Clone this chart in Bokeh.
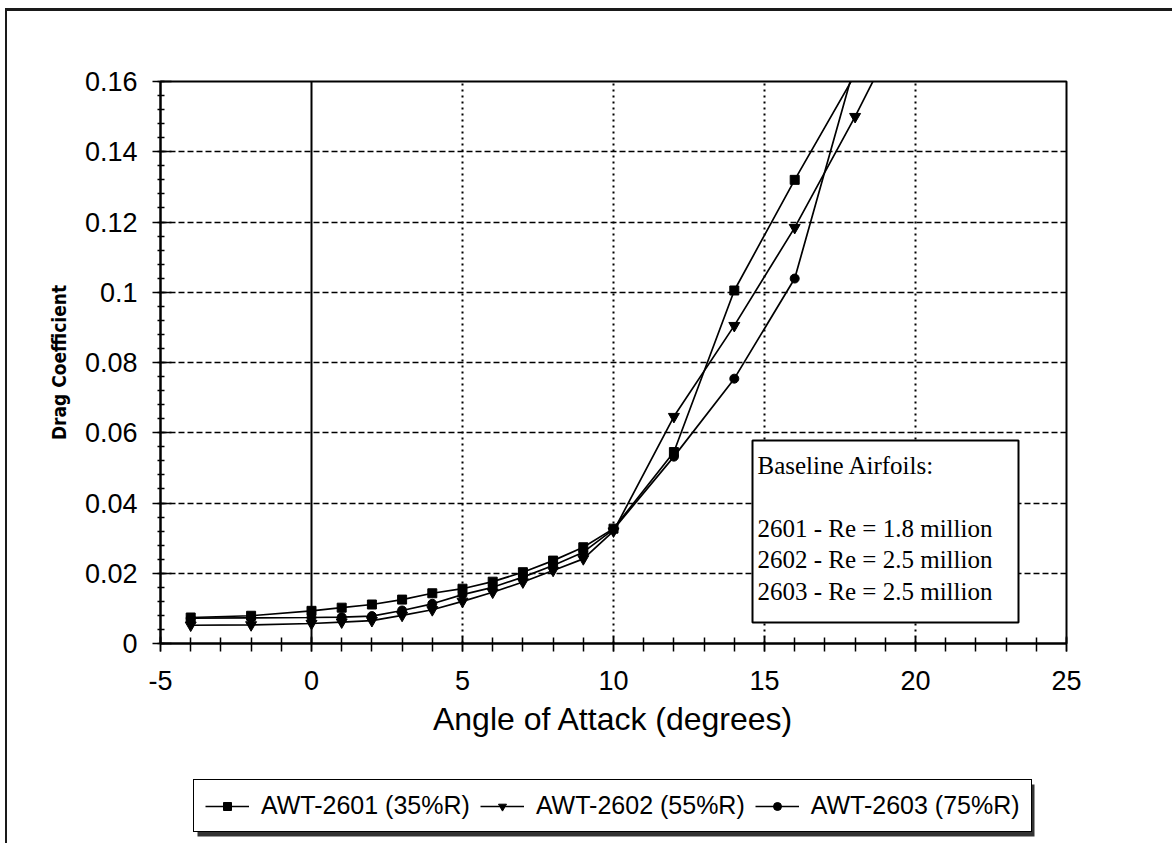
import numpy as np
from bokeh.plotting import figure
from bokeh.layouts import column
from bokeh.models import (Range1d, FixedTicker, Span, Legend, LegendItem, Label,
                          BoxAnnotation)
from bokeh.embed import file_html
from bokeh.resources import INLINE

# Angle of attack (degrees) and drag coefficient for each section
alpha_2601 = [-4, -2, 0, 1, 2, 3, 4, 5, 6, 7, 8, 9, 10, 12, 14, 16, 18]
cd_2601 = [0.0074, 0.0079, 0.0093, 0.0102, 0.0111, 0.0125, 0.0143, 0.0156,
           0.0176, 0.0203, 0.0236, 0.0274, 0.0327, 0.0545, 0.1005, 0.1320, 0.1620]

alpha_2602 = [-4, -2, 0, 1, 2, 3, 4, 5, 6, 7, 8, 9, 10, 12, 14, 16, 18, 20]
cd_2602 = [0.0052, 0.0053, 0.0057, 0.0061, 0.0065, 0.0080, 0.0096, 0.0120,
           0.0146, 0.0175, 0.0208, 0.0241, 0.0320, 0.0646, 0.0905, 0.1184, 0.1500, 0.1840]

alpha_2603 = [-4, -2, 0, 1, 2, 3, 4, 5, 6, 7, 8, 9, 10, 12, 14, 16, 18]
cd_2603 = [0.0072, 0.0073, 0.0074, 0.0075, 0.0078, 0.0094, 0.0113, 0.0139,
           0.0160, 0.0189, 0.0222, 0.0260, 0.0325, 0.0532, 0.0754, 0.1039, 0.1650]

series_labels = ["AWT-2601 (35%R)", "AWT-2602 (55%R)", "AWT-2603 (75%R)"]
series_markers = ["square", "inverted_triangle", "circle"]
marker_sizes = [9, 11, 9]

x_ticks = [-5, 0, 5, 10, 15, 20, 25]
x_tick_labels = ["-5", "0", "5", "10", "15", "20", "25"]
y_ticks = [0, 0.02, 0.04, 0.06, 0.08, 0.1, 0.12, 0.14, 0.16]
y_tick_labels = ["0", "0.02", "0.04", "0.06", "0.08", "0.1", "0.12", "0.14", "0.16"]

note_text = ("Baseline Airfoils:\n\n"
             "2601 - Re = 1.8 million\n"
             "2602 - Re = 2.5 million\n"
             "2603 - Re = 2.5 million")

SANS = "Liberation Sans"
series = [(alpha_2601, cd_2601), (alpha_2602, cd_2602), (alpha_2603, cd_2603)]

# ---------------- main chart ----------------
p = figure(width=1165, height=749, output_backend="svg", toolbar_location=None,
           x_range=Range1d(-5, 25), y_range=Range1d(0, 0.16),
           min_border_left=153, min_border_right=106,
           min_border_top=70, min_border_bottom=117,
           background_fill_color="white", border_fill_color="white")

p.outline_line_color = "black"
p.outline_line_width = 2

p.xaxis.ticker = FixedTicker(ticks=x_ticks, minor_ticks=list(range(-5, 26)))
p.xaxis.major_label_overrides = dict(zip(x_ticks, x_tick_labels))
p.yaxis.ticker = FixedTicker(ticks=y_ticks,
                             minor_ticks=list(np.round(np.arange(0, 0.1601, 0.004), 3)))
p.yaxis.major_label_overrides = dict(zip(y_ticks, y_tick_labels))

for ax in (p.xaxis, p.yaxis):
    ax.axis_line_color = "black"
    ax.axis_line_width = 2
    ax.major_tick_line_color = "black"
    ax.minor_tick_line_color = "black"
    ax.major_tick_line_width = 1.5
    ax.minor_tick_line_width = 1.5
    ax.major_label_text_font = SANS
    ax.major_label_text_font_size = "27px"
    ax.major_label_text_color = "black"
    ax.axis_label_text_color = "black"

p.xaxis.major_tick_in = 7
p.xaxis.major_tick_out = 8
p.xaxis.minor_tick_in = 6
p.xaxis.minor_tick_out = 8
p.xaxis.major_label_standoff = 19
p.xaxis.axis_label = "Angle of Attack (degrees)"
p.xaxis.axis_label_text_font = SANS
p.xaxis.axis_label_text_font_size = "32px"
p.xaxis.axis_label_text_font_style = "normal"
p.xaxis.axis_label_standoff = 8

p.yaxis.major_tick_in = 11
p.yaxis.major_tick_out = 8
p.yaxis.minor_tick_in = 4
p.yaxis.minor_tick_out = 3
p.yaxis.major_label_standoff = 15
p.yaxis.axis_label = "Drag Coefficient"
p.yaxis.axis_label_text_font = "DejaVu Sans Condensed"
p.yaxis.axis_label_text_font_size = "19px"
p.yaxis.axis_label_text_font_style = "bold"
p.yaxis.axis_label_standoff = 12

# dotted verticals, dashed horizontals, solid line at zero incidence
p.xgrid.ticker = FixedTicker(ticks=[5, 10, 15, 20])
p.xgrid.grid_line_color = "black"
p.xgrid.grid_line_width = 2
p.xgrid.grid_line_dash = "2 4"
p.ygrid.ticker = FixedTicker(ticks=y_ticks[1:-1])
p.ygrid.grid_line_color = "black"
p.ygrid.grid_line_width = 1.6
p.ygrid.grid_line_dash = "6 3"
p.add_layout(Span(location=0, dimension="height", line_color="black", line_width=2))

for (xs, ys), mk, sz in zip(series, series_markers, marker_sizes):
    p.line(xs, ys, line_color="black", line_width=1.7)
    p.scatter(xs, ys, marker=mk, size=sz, color="black")

# note box (screen offsets from the frame's lower-left corner)
note_box = BoxAnnotation(left=592, right=858, top=203, bottom=21,
                         left_units="screen", right_units="screen",
                         top_units="screen", bottom_units="screen",
                         fill_color="white", fill_alpha=1.0,
                         line_color="black", line_alpha=1.0, line_width=2)
p.add_layout(note_box)
note = Label(x=597, y=192, x_units="screen", y_units="screen", text=note_text,
             text_font="Liberation Serif", text_font_size="25px", text_color="black",
             text_align="left", text_baseline="top", text_line_height=1.17)
p.add_layout(note)

# ---------------- legend strip ----------------
leg = figure(width=1165, height=83, output_backend="svg", toolbar_location=None,
             x_range=Range1d(1000, 1001), y_range=Range1d(1000, 1001),
             x_axis_location=None, y_axis_location=None,
             min_border=0, outline_line_color=None,
             background_fill_color="white", border_fill_color="white")
leg.grid.visible = False

items = []
for label, (xs, ys), mk, sz in zip(series_labels, series, series_markers, marker_sizes):
    rl = leg.line(xs, ys, line_color="black", line_width=1.7)
    rm = leg.scatter(xs, ys, marker=mk, size=sz - 2, color="black")
    items.append(LegendItem(label=label, renderers=[rl, rm]))

shadow = BoxAnnotation(left=37, right=874, bottom=7, top=59,
                       left_units="screen", right_units="screen",
                       bottom_units="screen", top_units="screen",
                       fill_color="#333333", fill_alpha=1.0, line_color=None)
leg.add_layout(shadow)

legend = Legend(items=items, orientation="horizontal", location=(33, 11),
                border_line_color="black", border_line_alpha=1.0,
                border_line_width=1.5,
                background_fill_color="white", background_fill_alpha=1.0,
                label_text_font=SANS, label_text_font_size="25px",
                label_text_color="black",
                glyph_width=44, glyph_height=20, label_standoff=12,
                spacing=10, padding=11, margin=0)
leg.add_layout(legend)

page = column(p, leg, spacing=0,
              styles={"margin-left": "5px", "margin-top": "8px",
                      "border-top": "3px solid #1a1a1a",
                      "border-left": "2px solid #1a1a1a"})

open("out.html", "w").write(file_html(page, INLINE))
